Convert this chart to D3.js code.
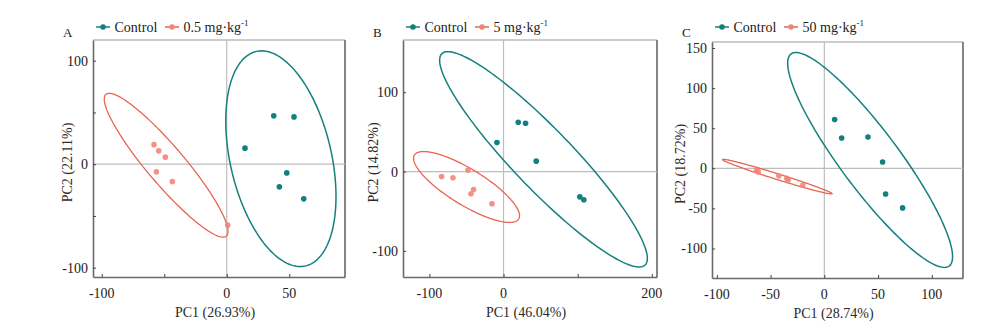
<!DOCTYPE html>
<html>
<head>
<meta charset="utf-8">
<script src="https://cdn.jsdelivr.net/npm/d3@7"></script>
<style>
  body { margin: 0; background: #fff; }
  svg text { font-family: "Liberation Serif", "Times New Roman", serif; }
</style>
</head>
<body>
<div id="wrapper"></div>
<script>
// PCA scores, [PC1, PC2]
const controlA = [[14.6, 15.5], [37.6, 46.7], [53.8, 45.7], [48, -8.4], [42.1, -21.9], [61.6, -33.5]];
const doseA = [[-58.2, 18.9], [-54.4, 12.9], [-49.1, 6.8], [-56.3, -7.4], [-43.5, -16.8], [0.8, -58.9]];
const controlB = [[-8.9, 36.5], [19.8, 62.2], [29.7, 60.9], [44.1, 13.1], [102.9, -31.9], [108.3, -35.6]];
const doseB = [[-83.5, -6.3], [-68.2, -7.9], [-48, 1.8], [-40.4, -22.7], [-43.9, -28.1], [-15.6, -40.7]];
const controlC = [[9.6, 60.9], [16.1, 37.7], [40.6, 38.9], [54.2, 7.8], [57, -32], [72.8, -49.4]];
const doseC = [[-63, -2.5], [-61.5, -4.5], [-42.3, -9.2], [-35, -12.5], [-33.6, -14.5], [-20, -21]];

// confidence ellipses: [centre PC1, centre PC2, half-range PC1, half-range PC2, correlation]
const ellipseControlA = [43.3, 5.3, 44.1, 104.2, -0.35];
const ellipseDoseA = [-48.5, -1, 49.5, 69.5, -0.92];
const ellipseControlB = [53.9, 15.4, 140.1, 135.8, -0.92];
const ellipseDoseB = [-49.9, -19.5, 71.5, 44.7, -0.81];
const ellipseControlC = [42.6, 10.4, 76.7, 134, -0.9];
const ellipseDoseC = [-43.7, -10.4, 50.9, 21.6, -0.985];

const panelLetters = ["A", "B", "C"];
const doseLabels = ["0.5", "5", "50"];
const pc1Labels = ["PC1 (26.93%)", "PC1 (46.04%)", "PC1 (28.74%)"];
const pc2Labels = ["PC2 (22.11%)", "PC2 (14.82%)", "PC2 (18.72%)"];

const xTicksA = [-100, -50, 0, 50], xLabelsA = [-100, 0, 50];
const yTicksA = [-100, -50, 0, 50, 100], yLabelsA = [-100, 0, 100];
const xTicksB = [-100, 0, 100, 200], xLabelsB = [-100, 0, 200];
const yTicksB = [-100, 0, 100], yLabelsB = [-100, 0, 100];
const xTicksC = [-100, -50, 0, 50, 100], xLabelsC = xTicksC;
const yTicksC = [-100, -50, 0, 50, 100, 150], yLabelsC = yTicksC;

const teal = "#16807f";
const tealDot = "#12807e";
const red = "#ea6452";
const redDot = "#f2857a";

const panels = [
  { box: [93, 345, 40, 277], xDom: [-107, 94.6], yDom: [-109, 120], titleGap: 21,
    xTicks: xTicksA, xLabels: xLabelsA, yTicks: yTicksA, yLabels: yLabelsA,
    ctrl: controlA, dose: doseA, eCtrl: ellipseControlA, eDose: ellipseDoseA, yTitleColor: "#3d2a1c" },
  { box: [403, 657, 40, 277], xDom: [-135.6, 207], yDom: [-133, 165.9], titleGap: 25,
    xTicks: xTicksB, xLabels: xLabelsB, yTicks: yTicksB, yLabels: yLabelsB,
    ctrl: controlB, dose: doseB, eCtrl: ellipseControlB, eDose: ellipseDoseB, yTitleColor: "#2a2a2a" },
  { box: [712, 963, 42, 278], xDom: [-104.5, 129], yDom: [-136.8, 157.5], titleGap: 27,
    xTicks: xTicksC, xLabels: xLabelsC, yTicks: yTicksC, yLabels: yLabelsC,
    ctrl: controlC, dose: doseC, eCtrl: ellipseControlC, eDose: ellipseDoseC, yTitleColor: "#3d2a1c" }
];

const svg = d3.select("#wrapper").append("svg")
  .attr("width", 1000)
  .attr("height", 329);

// ellipse outline from centre, half-ranges and correlation
function ellipsePoints(e) {
  const [cx, cy, sx, sy, r] = e;
  const s = Math.sqrt(1 - r * r);
  return d3.range(0, 2 * Math.PI, Math.PI / 90).map(t => [
    cx + sx * Math.cos(t),
    cy + sy * (r * Math.cos(t) + s * Math.sin(t))
  ]);
}

panels.forEach((p, i) => {
  const [x0, x1, y0, y1] = p.box;
  const x = d3.scaleLinear().domain(p.xDom).range([x0, x1]);
  const y = d3.scaleLinear().domain(p.yDom).range([y1, y0]);
  const g = svg.append("g");

  // frame
  g.append("line").attr("x1", x0).attr("x2", x1).attr("y1", y0).attr("y2", y0)
    .attr("stroke", "#9a9a9a").attr("stroke-width", 1.2);
  g.append("line").attr("x1", x1).attr("x2", x1).attr("y1", y0).attr("y2", y1)
    .attr("stroke", "#444").attr("stroke-width", 1.3);

  // zero lines
  g.append("line").attr("x1", x(0)).attr("x2", x(0)).attr("y1", y0).attr("y2", y1)
    .attr("stroke", "#bdbdbd").attr("stroke-width", 1.2);
  g.append("line").attr("x1", x0).attr("x2", x1).attr("y1", y(0)).attr("y2", y(0))
    .attr("stroke", "#bdbdbd").attr("stroke-width", 1.2);

  // axes with short inward ticks
  const xAxis = g.append("g").attr("transform", `translate(0,${y1})`)
    .call(d3.axisTop(x).tickValues(p.xTicks).tickSize(3).tickSizeOuter(0).tickFormat(""));
  const yAxis = g.append("g").attr("transform", `translate(${x0},0)`)
    .call(d3.axisRight(y).tickValues(p.yTicks).tickSize(3).tickSizeOuter(0).tickFormat(""));
  [xAxis, yAxis].forEach(a => {
    a.select(".domain").attr("stroke", "#6a6a6a").attr("stroke-width", 1.6);
    a.selectAll(".tick line").attr("stroke", "#444").attr("stroke-width", 1);
  });

  g.selectAll(".xlab").data(p.xLabels).join("text")
    .attr("x", d => x(d)).attr("y", y1 + 21)
    .attr("text-anchor", "middle").attr("font-size", 14).attr("fill", "#222")
    .text(d => d);
  g.selectAll(".ylab").data(p.yLabels).join("text")
    .attr("x", x0 - 5).attr("y", d => y(d) + 5)
    .attr("text-anchor", "end").attr("font-size", 14).attr("fill", "#222")
    .text(d => d);

  // axis titles
  g.append("text")
    .attr("x", (x0 + x1) / 2 - 4).attr("y", y1 + 40)
    .attr("text-anchor", "middle").attr("font-size", 14).attr("fill", "#2a2a2a")
    .text(pc1Labels[i]);
  g.append("text")
    .attr("transform", `translate(${x0 - p.titleGap},${(y0 + y1) / 2 + 4}) rotate(-90)`)
    .attr("text-anchor", "middle").attr("font-size", 14).attr("fill", p.yTitleColor)
    .text(pc2Labels[i]);

  // ellipses
  const line = d3.line().x(d => x(d[0])).y(d => y(d[1])).curve(d3.curveLinearClosed);
  g.append("path").attr("d", line(ellipsePoints(p.eDose)))
    .attr("fill", "none").attr("stroke", red).attr("stroke-width", 1.3);
  g.append("path").attr("d", line(ellipsePoints(p.eCtrl)))
    .attr("fill", "none").attr("stroke", teal).attr("stroke-width", 1.5);

  // points
  g.selectAll(".pc").data(p.ctrl).join("circle")
    .attr("cx", d => x(d[0])).attr("cy", d => y(d[1])).attr("r", 2.8)
    .attr("fill", tealDot);
  g.selectAll(".pd").data(p.dose).join("circle")
    .attr("cx", d => x(d[0])).attr("cy", d => y(d[1])).attr("r", 2.8)
    .attr("fill", redDot).attr("fill-opacity", 0.9);

  // panel letter
  g.append("text").attr("x", x0 - 30).attr("y", 37)
    .attr("font-size", 13).attr("fill", "#222").text(panelLetters[i]);

  // legend
  const legend = [
    { color: teal, dot: tealDot, label: "Control" },
    { color: red, dot: redDot, label: doseLabels[i] + " mg·kg" }
  ];
  legend.forEach((l, k) => {
    const lx = x0 + 3 + k * 69, ly = 27;
    g.append("line").attr("x1", lx).attr("x2", lx + 14).attr("y1", ly).attr("y2", ly)
      .attr("stroke", l.color).attr("stroke-width", 1.5);
    g.append("circle").attr("cx", lx + 7).attr("cy", ly).attr("r", 2.8).attr("fill", l.dot);
    const t = g.append("text").attr("x", lx + 18.5).attr("y", ly + 5)
      .attr("font-size", 14).attr("fill", "#222").text(l.label);
    if (k === 1) {
      t.append("tspan").attr("dy", -6).attr("font-size", 9).text("-1");
    }
  });
});
</script>
</body>
</html>
